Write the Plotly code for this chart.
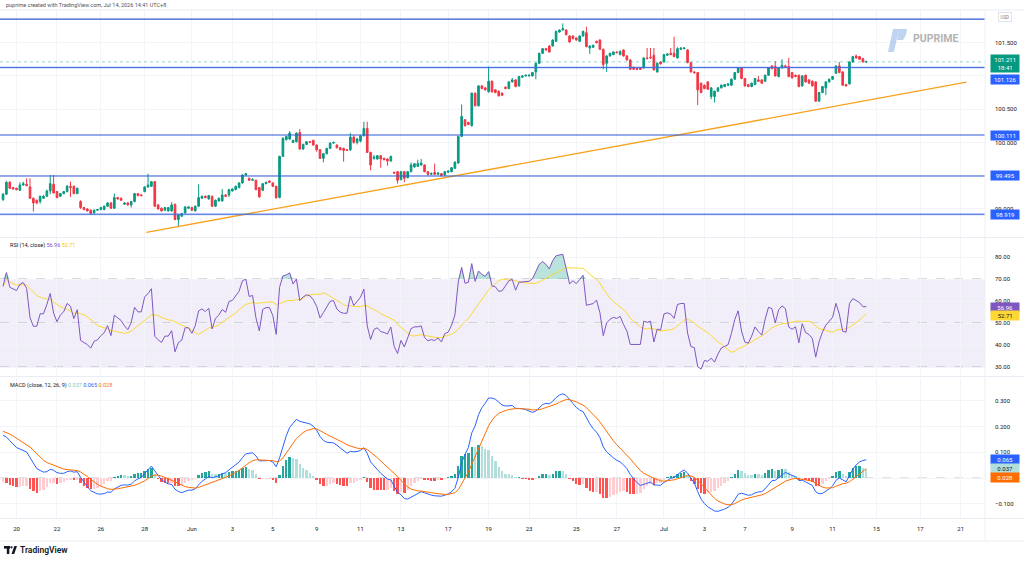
import numpy as np
import pandas as pd
import plotly.graph_objects as go

# ---------------- data (4H candles) ----------------
opens = [
99.14,99.22,99.40,99.32,99.31,99.28,99.36,99.37,99.33,99.16,
99.13,99.11,99.16,99.19,99.27,99.37,99.26,99.19,99.23,99.26,
99.34,99.34,99.23,99.11,99.02,99.00,98.98,98.94,98.98,98.99,
98.99,99.04,99.09,99.01,99.17,99.16,99.07,99.09,99.06,99.11,
99.23,99.21,99.26,99.33,99.34,99.41,99.06,99.01,98.98,98.97,
98.97,99.07,98.84,98.89,98.94,99.01,99.02,98.97,99.04,99.16,
99.19,99.15,99.19,99.04,99.12,99.12,99.21,99.21,99.27,99.29,
99.32,99.39,99.51,99.46,99.43,99.43,99.32,99.28,99.38,99.42,
99.39,99.34,99.17,99.79,100.04,100.05,100.00,100.01,100.15,99.90,
99.97,100.01,100.03,99.96,99.89,99.76,99.83,99.91,99.99,99.96,
99.92,99.91,99.89,99.89,100.08,100.00,100.02,100.10,100.21,99.85,
99.76,99.75,99.80,99.76,99.75,99.72,99.55,99.56,99.44,99.56,
99.47,99.56,99.63,99.64,99.66,99.66,99.56,99.52,99.55,99.52,
99.53,99.51,99.55,99.56,99.61,99.69,100.09,100.34,100.30,100.25,
100.74,100.55,100.85,100.82,100.76,100.92,100.79,100.77,100.74,100.83,
100.81,100.91,100.94,100.85,100.98,101.00,101.00,101.00,101.06,101.19,
101.34,101.41,101.45,101.45,101.52,101.66,101.69,101.69,101.60,101.60,
101.57,101.52,101.60,101.65,101.42,101.43,101.52,101.54,101.40,101.19,
101.30,101.32,101.36,101.32,101.39,101.30,101.24,101.13,101.11,101.12,
101.12,101.27,101.28,101.31,101.06,101.21,101.21,101.31,101.34,101.34,
101.27,101.40,101.41,101.39,101.20,101.06,101.05,100.89,100.86,100.91,
100.69,100.69,100.77,100.82,100.84,100.86,100.86,100.95,101.05,101.12,
100.96,100.87,100.84,100.87,100.94,100.94,100.92,101.01,101.15,101.14,
100.99,101.12,101.15,101.14,101.05,101.01,101.01,100.85,101.01,100.94,
100.92,100.91,100.62,100.75,100.82,100.91,100.95,101.04,101.15,101.06,
100.87,100.88,101.21,101.30,101.29,101.26,101.21]
highs = [
99.24,99.42,99.42,99.33,99.32,99.40,99.41,99.46,99.46,99.17,
99.14,99.20,99.21,99.29,99.51,99.51,99.27,99.24,99.27,99.36,
99.41,99.35,99.32,99.13,99.03,99.01,98.99,98.99,99.00,99.03,
99.05,99.10,99.10,99.23,99.18,99.17,99.10,99.10,99.12,99.24,
99.24,99.22,99.34,99.53,99.42,99.42,99.07,99.02,99.03,99.03,
99.10,99.08,98.92,98.94,99.04,99.04,99.03,99.05,99.37,99.20,
99.20,99.21,99.20,99.14,99.17,99.30,99.22,99.30,99.31,99.35,
99.40,99.52,99.54,99.47,99.46,99.44,99.33,99.39,99.41,99.43,
99.40,99.35,99.80,100.08,100.10,100.17,100.04,100.15,100.20,99.98,
100.02,100.02,100.04,99.97,99.90,99.84,99.92,100.00,100.01,99.97,
99.93,99.92,99.90,100.14,100.11,100.07,100.11,100.31,100.31,99.86,
99.81,99.81,99.81,99.77,99.76,99.80,99.56,99.57,99.57,99.57,
99.57,99.70,99.69,99.74,99.75,99.67,99.57,99.55,99.68,99.55,
99.54,99.57,99.58,99.63,99.72,100.10,100.57,100.35,100.31,100.75,
100.75,100.86,100.86,100.83,101.14,100.93,100.80,100.78,100.75,100.84,
100.92,100.97,100.95,101.00,101.01,101.02,101.02,101.06,101.20,101.35,
101.42,101.42,101.46,101.55,101.68,101.70,101.79,101.70,101.61,101.61,
101.58,101.61,101.68,101.74,101.46,101.47,101.53,101.55,101.41,101.31,
101.35,101.37,101.37,101.38,101.40,101.31,101.25,101.14,101.12,101.13,
101.28,101.42,101.42,101.42,101.20,101.22,101.33,101.34,101.42,101.59,
101.43,101.43,101.43,101.40,101.21,101.07,101.06,100.90,100.87,100.92,
100.83,100.78,100.83,100.87,100.88,100.89,100.96,101.06,101.13,101.13,
100.97,100.88,100.90,100.97,101.00,100.95,101.02,101.13,101.16,101.22,
101.13,101.25,101.17,101.27,101.06,101.02,101.02,101.01,101.02,100.95,
100.93,100.92,100.76,100.85,100.92,100.96,101.00,101.16,101.21,101.07,
100.88,101.22,101.30,101.32,101.30,101.27,101.23]
lows = [
99.12,99.21,99.30,99.29,99.28,99.27,99.35,99.34,99.15,98.96,
99.07,99.08,99.15,99.18,99.22,99.23,99.16,99.18,99.22,99.25,
99.18,99.22,99.22,99.00,98.98,98.96,98.92,98.93,98.97,98.98,
98.98,99.03,99.00,99.00,99.14,99.12,99.06,99.05,99.02,99.10,
99.19,99.19,99.25,99.32,99.33,99.03,98.99,98.96,98.97,98.96,
98.96,98.83,98.74,98.88,98.93,99.00,98.97,98.96,99.03,99.15,
99.16,99.14,99.03,99.03,99.11,99.11,99.18,99.18,99.26,99.28,
99.31,99.38,99.50,99.42,99.42,99.28,99.17,99.27,99.37,99.39,
99.33,99.15,99.16,99.78,100.03,100.04,99.99,100.00,99.89,99.89,
99.96,99.99,99.95,99.86,99.75,99.70,99.82,99.90,99.98,99.91,
99.88,99.71,99.87,99.87,99.98,99.97,100.00,100.09,99.84,99.58,
99.74,99.74,99.62,99.73,99.65,99.71,99.53,99.38,99.43,99.40,
99.46,99.55,99.62,99.63,99.65,99.55,99.50,99.51,99.51,99.51,
99.49,99.49,99.54,99.55,99.60,99.68,100.08,100.24,100.26,100.24,
100.54,100.54,100.80,100.78,100.75,100.75,100.74,100.69,100.70,100.80,
100.80,100.90,100.83,100.84,100.97,100.99,100.99,100.99,100.95,101.18,
101.33,101.38,101.35,101.44,101.51,101.65,101.68,101.61,101.50,101.55,
101.53,101.51,101.59,101.43,101.33,101.42,101.49,101.39,101.10,101.06,
101.29,101.31,101.34,101.31,101.29,101.23,101.09,101.09,101.09,101.09,
101.11,101.25,101.26,101.08,101.05,101.17,101.20,101.30,101.31,101.28,
101.26,101.39,101.40,101.19,101.05,101.03,100.56,100.74,100.80,100.79,
100.65,100.60,100.76,100.81,100.83,100.85,100.85,100.94,101.04,100.95,
100.84,100.83,100.83,100.86,100.91,100.88,100.91,101.00,101.10,100.99,
100.98,101.11,101.13,100.98,100.96,100.98,100.83,100.84,100.90,100.88,
100.84,100.61,100.61,100.74,100.71,100.90,100.94,101.03,101.04,100.85,
100.84,100.87,101.20,101.26,101.24,101.20,101.20]
closes = [
99.22,99.40,99.31,99.30,99.29,99.36,99.38,99.35,99.16,99.09,
99.09,99.19,99.19,99.27,99.38,99.24,99.17,99.23,99.26,99.34,
99.32,99.23,99.31,99.02,98.99,98.97,98.93,98.98,98.99,99.02,
99.04,99.09,99.01,99.17,99.15,99.13,99.09,99.06,99.11,99.23,
99.20,99.20,99.33,99.36,99.41,99.04,99.00,98.97,99.02,99.02,
99.06,98.84,98.91,98.93,99.03,99.03,98.98,99.04,99.17,99.19,
99.17,99.20,99.04,99.13,99.16,99.21,99.19,99.29,99.30,99.34,
99.39,99.51,99.53,99.43,99.44,99.29,99.18,99.38,99.40,99.40,
99.34,99.17,99.79,100.06,100.09,100.14,100.03,100.14,99.90,99.97,
100.01,100.00,99.96,99.89,99.76,99.83,99.91,99.99,100.00,99.92,
99.89,99.88,99.88,100.08,100.00,100.05,100.10,100.21,99.85,99.66,
99.78,99.80,99.75,99.74,99.72,99.79,99.54,99.43,99.56,99.46,
99.56,99.66,99.68,99.68,99.69,99.56,99.52,99.53,99.52,99.54,
99.50,99.56,99.57,99.62,99.70,100.09,100.39,100.25,100.27,100.74,
100.55,100.85,100.81,100.79,100.92,100.76,100.75,100.70,100.71,100.81,
100.91,100.94,100.84,100.99,101.00,101.01,101.01,101.05,101.19,101.34,
101.41,101.39,101.36,101.54,101.67,101.69,101.71,101.62,101.51,101.56,
101.54,101.60,101.67,101.44,101.45,101.46,101.50,101.40,101.17,101.30,
101.34,101.36,101.35,101.37,101.30,101.24,101.10,101.10,101.10,101.10,
101.27,101.26,101.27,101.09,101.19,101.18,101.32,101.33,101.32,101.29,
101.41,101.42,101.42,101.20,101.06,101.05,100.79,100.75,100.81,100.80,
100.82,100.77,100.82,100.86,100.87,100.88,100.95,101.05,101.12,100.96,
100.85,100.84,100.89,100.96,100.92,100.89,101.01,101.12,101.11,101.00,
101.12,101.16,101.14,100.99,100.97,100.99,100.84,101.00,100.91,100.89,
100.85,100.62,100.75,100.84,100.91,100.95,100.99,101.15,101.05,100.86,
100.85,101.21,101.29,101.27,101.25,101.21,101.211]

tick_idx = [4, 16, 29, 42, 56, 68, 80, 93, 106, 118, 132, 144, 156, 170, 182,
            196, 208, 220, 234, 246, 259, 272, 284]
tick_txt = ["20", "22", "26", "28", "Jun", "3", "5", "9", "11", "13", "17", "19",
            "23", "25", "27", "Jul", "3", "7", "9", "11", "15", "17", "21"]

levels_major = [101.855, 100.111, 99.495]
levels_band = [101.126, 98.919]
trend_x = [42.5, 285.7]
trend_y = [98.647, 100.906]

last_price = 101.211
last_rsi, last_rsi_ma = 56.96, 52.71
last_macd, last_signal, last_hist = 0.065, 0.028, 0.037

price_ticks = [99.0, 99.5, 100.0, 100.5, 101.0, 101.5]
price_tick_txt = ["99.000", "", "100.000", "100.500", "", "101.500"]
rsi_ticks = [30, 40, 50, 60, 70, 80]
macd_ticks = [-0.1, 0.0, 0.1, 0.2, 0.3]
macd_tick_txt = ["\u22120.100", "", "0.100", "0.200", "0.300"]

rsi_start_gain, rsi_start_loss = 0.04, 0.02
ema12_start, ema26_start, signal_start = 99.35, 99.16, 0.185

# ---------------- indicators from closes ----------------
c = np.array(closes)
n = len(c)
x = np.arange(n)

ag, al = rsi_start_gain, rsi_start_loss
rsi = []
for i in range(n):
    if i > 0:
        d = c[i] - c[i - 1]
        ag = (ag * 13 + max(d, 0)) / 14
        al = (al * 13 + max(-d, 0)) / 14
    rsi.append(100 - 100 / (1 + ag / al))
rsi = np.array(rsi)
rsi_ma = pd.Series(rsi).rolling(14, min_periods=1).mean().values

e12, e26, sg = ema12_start, ema26_start, signal_start
macd, sig = [], []
for i in range(n):
    e12 = e12 + (c[i] - e12) * 2 / 13
    e26 = e26 + (c[i] - e26) * 2 / 27
    m = e12 - e26
    sg = sg + (m - sg) * 2 / 10
    macd.append(m)
    sig.append(sg)
macd = np.array(macd)
sig = np.array(sig)
hist = macd - sig
hcol = []
for i, h in enumerate(hist):
    p = hist[i - 1] if i > 0 else h
    if h >= 0:
        hcol.append("#26a69a" if h >= p else "#b2dfdb")
    else:
        hcol.append("#ff5252" if h < p else "#ffcdd2")

# ---------------- figure ----------------
W, H = 1024, 562
F = "Roboto, Arial, sans-serif"
TXT = "#131722"
UP, DN = "#089981", "#f23645"
BLUE = "#2962ff"
XR = 985 / W


def py(p):
    return 1 - p / H


def px(p):
    return p / W


fig = go.Figure()

fig.add_trace(go.Candlestick(
    x=x, open=opens, high=highs, low=lows, close=closes,
    increasing=dict(line=dict(color=UP, width=1), fillcolor=UP),
    decreasing=dict(line=dict(color=DN, width=1), fillcolor=DN),
    whiskerwidth=0, xaxis="x", yaxis="y", showlegend=False, hoverinfo="skip"))

fig.add_trace(go.Scatter(x=trend_x, y=trend_y, mode="lines",
                         line=dict(color="#f7a21b", width=1.3),
                         xaxis="x", yaxis="y", showlegend=False, hoverinfo="skip"))

# RSI pane
fig.add_trace(go.Scatter(x=x, y=[70] * n, mode="lines", line=dict(width=0),
                         xaxis="x2", yaxis="y2", showlegend=False, hoverinfo="skip"))
fig.add_trace(go.Scatter(x=x, y=np.maximum(rsi, 70), mode="lines", line=dict(width=0),
                         fill="tonexty", fillcolor="rgba(8,153,129,0.28)",
                         xaxis="x2", yaxis="y2", showlegend=False, hoverinfo="skip"))
fig.add_trace(go.Scatter(x=x, y=rsi_ma, mode="lines", line=dict(color="#fdd835", width=1),
                         xaxis="x2", yaxis="y2", showlegend=False, hoverinfo="skip"))
fig.add_trace(go.Scatter(x=x, y=rsi, mode="lines", line=dict(color="#7e57c2", width=1),
                         xaxis="x2", yaxis="y2", showlegend=False, hoverinfo="skip"))

# MACD pane
fig.add_trace(go.Bar(x=x, y=hist, marker=dict(color=hcol, line=dict(width=0)), width=0.7,
                     xaxis="x3", yaxis="y3", showlegend=False, hoverinfo="skip"))
fig.add_trace(go.Scatter(x=x, y=macd, mode="lines", line=dict(color=BLUE, width=1),
                         xaxis="x3", yaxis="y3", showlegend=False, hoverinfo="skip"))
fig.add_trace(go.Scatter(x=x, y=sig, mode="lines", line=dict(color="#ff6d00", width=1),
                         xaxis="x3", yaxis="y3", showlegend=False, hoverinfo="skip"))

xcommon = dict(range=[-0.9, 291.2], tickvals=tick_idx, ticktext=tick_txt,
               showgrid=True, gridcolor="#f2f4f8", gridwidth=1, zeroline=False,
               showline=False, ticks="", fixedrange=True)
ycommon = dict(side="right", showgrid=True, gridcolor="#f2f4f8", gridwidth=1,
               zeroline=False, showline=False, ticks="", ticklabelstandoff=9,
               tickfont=dict(family=F, size=6, color=TXT), fixedrange=True)

fig.update_layout(
    width=W, height=H, margin=dict(l=0, r=0, t=0, b=0),
    paper_bgcolor="white", plot_bgcolor="white", bargap=0,
    xaxis=dict(domain=[0, XR], anchor="y", showticklabels=False,
               rangeslider=dict(visible=False), **xcommon),
    xaxis2=dict(domain=[0, XR], anchor="y2", showticklabels=False, **xcommon),
    xaxis3=dict(domain=[0, XR], anchor="y3", showticklabels=True, ticklabelstandoff=6,
                tickfont=dict(family=F, size=6, color=TXT), **xcommon),
    yaxis=dict(domain=[py(237), py(10)], anchor="x",
               range=[100 + (142.4 - 237) / 66.5, 100 + (142.4 - 10) / 66.5],
               tickvals=price_ticks, ticktext=price_tick_txt, **ycommon),
    yaxis2=dict(domain=[py(375), py(238)], anchor="x2",
                range=[30 - (375 - 367) / 2.2, 70 + (279 - 238) / 2.2],
                tickvals=rsi_ticks, ticktext=[f"{v:.2f}" for v in rsi_ticks], **ycommon),
    yaxis3=dict(domain=[py(518), py(378)], anchor="x3",
                range=[-(518 - 478) / 258, (478 - 378) / 258],
                tickvals=macd_ticks, ticktext=macd_tick_txt, **ycommon),
)

shapes = []
# RSI band & dashed guides
shapes.append(dict(type="rect", xref="paper", yref="y2", x0=0, x1=XR, y0=30, y1=70,
                   fillcolor="rgba(126,87,194,0.10)", line=dict(width=0), layer="below"))
for v in (70, 50, 30):
    shapes.append(dict(type="line", xref="paper", yref="y2", x0=0, x1=XR, y0=v, y1=v,
                       line=dict(color="#b2b5be", width=1, dash="dash"), layer="below"))
shapes.append(dict(type="line", xref="paper", yref="y3", x0=0, x1=XR, y0=0, y1=0,
                   line=dict(color="#c3c6ce", width=1, dash="dash"), layer="below"))
# horizontal levels
for lv in levels_band:
    shapes.append(dict(type="line", xref="paper", yref="y", x0=0, x1=XR, y0=lv, y1=lv,
                       line=dict(color="rgba(41,98,255,0.22)", width=2.6)))
    shapes.append(dict(type="line", xref="paper", yref="y", x0=0, x1=XR, y0=lv, y1=lv,
                       line=dict(color="#4a6fdc", width=1)))
for lv in levels_major:
    shapes.append(dict(type="line", xref="paper", yref="y", x0=0, x1=XR, y0=lv, y1=lv,
                       line=dict(color="#2f58d6", width=1.2)))
shapes.append(dict(type="line", xref="paper", yref="y", x0=0, x1=XR, y0=last_price, y1=last_price,
                   line=dict(color="rgba(8,153,129,0.40)", width=1, dash="dot")))
# pane separators
for yy in (10, 237.5, 376.5, 518.5, 541):
    shapes.append(dict(type="line", xref="paper", yref="paper", x0=0, x1=1,
                       y0=py(yy), y1=py(yy), line=dict(color="#e9ecf2", width=1)))
shapes.append(dict(type="line", xref="paper", yref="paper", x0=XR, x1=XR,
                   y0=py(541), y1=py(10), line=dict(color="#eef0f4", width=1)))


def poly(pts):
    s = "M " + " L ".join(f"{px(a):.5f},{py(b):.5f}" for a, b in pts) + " Z"
    return s


# PUPRIME logo mark
shapes.append(dict(type="path", xref="paper", yref="paper",
                   path=poly([(888, 52), (894, 52), (899, 29), (893, 29)]),
                   fillcolor="rgba(140,175,228,0.55)", line=dict(width=0)))
shapes.append(dict(type="path", xref="paper", yref="paper",
                   path=poly([(899, 29), (907, 29), (906, 35), (903, 40), (897, 40)]),
                   fillcolor="rgba(140,175,228,0.55)", line=dict(width=0)))
# TradingView logo mark
shapes.append(dict(type="rect", xref="paper", yref="paper", x0=px(4), x1=px(10),
                   y0=py(548.6), y1=py(546), fillcolor=TXT, line=dict(width=0)))
shapes.append(dict(type="rect", xref="paper", yref="paper", x0=px(6.8), x1=px(9.3),
                   y0=py(554), y1=py(546), fillcolor=TXT, line=dict(width=0)))
shapes.append(dict(type="circle", xref="paper", yref="paper", x0=px(10.3), x1=px(12.6),
                   y0=py(548.5), y1=py(546.2), fillcolor=TXT, line=dict(width=0)))
shapes.append(dict(type="path", xref="paper", yref="paper",
                   path=poly([(11.5, 554), (14.2, 554), (17, 546), (14.3, 546)]),
                   fillcolor=TXT, line=dict(width=0)))
fig.update_layout(shapes=shapes)

ann = []
ann.append(dict(xref="paper", yref="paper", x=px(4), y=py(5), xanchor="left", yanchor="middle",
                text="puprime created with TradingView.com, Jul 14, 2026 14:41 UTC+8",
                font=dict(family=F, size=5.5, color="#50535e"), showarrow=False))
ann.append(dict(xref="paper", yref="paper", x=px(1005), y=py(17), xanchor="center", yanchor="middle",
                text="USD", font=dict(family=F, size=4.5, color="#787b86"), showarrow=False,
                bordercolor="#e0e3eb", borderwidth=1, borderpad=1.5, bgcolor="white"))
ann.append(dict(xref="paper", yref="paper", x=px(911), y=py(38.5), xanchor="left", yanchor="middle",
                text="<b>PUPRIME</b>", font=dict(family=F, size=10.5, color="#b3b3b3"),
                showarrow=False))
ann.append(dict(xref="paper", yref="paper", x=px(18), y=py(550), xanchor="left", yanchor="middle",
                text="TradingView", font=dict(family=F, size=8.5, color=TXT, weight=600),
                showarrow=False))
ann.append(dict(xref="paper", yref="paper", x=px(8), y=py(245), xanchor="left", yanchor="middle",
                text=f'RSI (14, close) <span style="color:#7e57c2">{last_rsi:.2f}</span> '
                     f'<span style="color:#f5c400">{last_rsi_ma:.2f}</span>',
                font=dict(family=F, size=5.5, color=TXT), showarrow=False))
ann.append(dict(xref="paper", yref="paper", x=px(8), y=py(385), xanchor="left", yanchor="middle",
                text=f'MACD (close, 12, 26, 9) <span style="color:#80cbc4">{last_hist:.3f}</span> '
                     f'<span style="color:#2962ff">{last_macd:.3f}</span> '
                     f'<span style="color:#ff6d00">{last_signal:.3f}</span>',
                font=dict(family=F, size=5.5, color=TXT), showarrow=False))


def box(yref, yval, text, bg, fg, yshift=0):
    ann.append(dict(xref="paper", yref=yref, x=px(990), y=yval, xanchor="left", yanchor="middle",
                    text=text, bgcolor=bg, font=dict(family=F, size=6, color=fg),
                    showarrow=False, borderpad=1.2, width=26, align="center", yshift=yshift))


box("y", last_price, f"{last_price:.3f}<br>18:41", UP, "white", yshift=-2)
box("y", levels_band[0], f"{levels_band[0]:.3f}", BLUE, "white", yshift=-11.5)
box("y", levels_major[1], f"{levels_major[1]:.3f}", BLUE, "white")
box("y", levels_major[2], f"{levels_major[2]:.3f}", BLUE, "white")
box("y", levels_band[1], f"{levels_band[1]:.3f}", BLUE, "white")
box("y2", last_rsi, f"{last_rsi:.2f}", "#7e57c2", "white")
box("y2", last_rsi_ma, f"{last_rsi_ma:.2f}", "#fdd835", TXT, yshift=1.5)
box("y3", last_macd, f"{last_macd:.3f}", BLUE, "white", yshift=2)
box("y3", last_hist, f"{last_hist:.3f}", "#b2dfdb", TXT)
box("y3", last_signal, f"{last_signal:.3f}", "#ff6d00", "white", yshift=-7)

fig.update_layout(annotations=ann)
fig.write_html("out.html")
